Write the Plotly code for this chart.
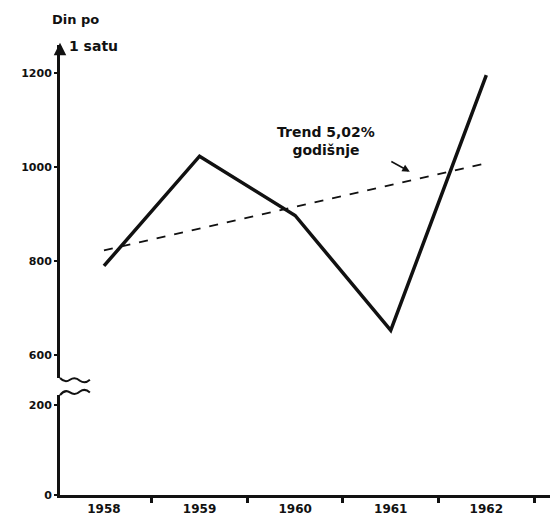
import plotly.graph_objects as go

years = ["1958", "1959", "1960", "1961", "1962"]
values = [790, 1023, 897, 653, 1195]
trend = [823, 865, 910, 958, 1008]
upper_ticks = [600, 800, 1000, 1200]
lower_ticks = [0, 200]

FONT = "DejaVu Sans"
ink = "#111111"

fig = go.Figure()
fig.add_trace(go.Scatter(x=years, y=values, mode="lines",
                         line=dict(color=ink, width=3.5), xaxis="x", yaxis="y",
                         showlegend=False, hoverinfo="skip"))
fig.add_trace(go.Scatter(x=[years[0], years[-1]], y=[trend[0], trend[-1]], mode="lines",
                         line=dict(color=ink, width=2, dash="dash"), xaxis="x", yaxis="y",
                         showlegend=False, hoverinfo="skip"))
fig.add_trace(go.Scatter(x=years, y=[0] * len(years), mode="markers",
                         marker=dict(opacity=0), xaxis="x2", yaxis="y2",
                         showlegend=False, hoverinfo="skip"))

xr = [-0.46, 4.75]
fig.update_layout(
    width=550, height=512,
    margin=dict(l=52, r=0, t=37, b=25),
    paper_bgcolor="white", plot_bgcolor="white",
    font=dict(family=FONT, color=ink, size=11),
    xaxis=dict(type="category", categoryarray=years, range=xr, anchor="y",
               showticklabels=False, showgrid=False, zeroline=False, showline=False,
               domain=[0, 1], automargin=False),
    xaxis2=dict(type="category", categoryarray=years, range=xr, anchor="y2",
                showgrid=False, zeroline=False, showline=True, linecolor=ink, linewidth=3,
                ticks="outside", tickson="boundaries", ticklen=5, tickwidth=3, tickcolor=ink,
                ticklabelstandoff=1,
                tickfont=dict(size=12, family=FONT, weight="bold"),
                domain=[0, 1], automargin=False),
    yaxis=dict(domain=[0.26, 1], range=[552, 1259], anchor="x",
               tickvals=upper_ticks, ticktext=[str(v) for v in upper_ticks],
               showgrid=False, zeroline=False, showline=True, linecolor=ink, linewidth=3,
               ticks="outside", ticklen=3, tickwidth=2, tickcolor=ink,
               tickfont=dict(size=11, family=FONT, weight="bold"), automargin=False),
    yaxis2=dict(domain=[0, 0.222], range=[0, 222], anchor="x2",
                tickvals=lower_ticks, ticktext=[str(v) for v in lower_ticks],
                showgrid=False, zeroline=False, showline=True, linecolor=ink, linewidth=3,
                ticks="outside", ticklen=3, tickwidth=2, tickcolor=ink,
                tickfont=dict(size=11, family=FONT, weight="bold"), automargin=False),
)

# axis break squiggles (paper coordinates)
fig.add_shape(type="path", xref="paper", yref="paper",
              path="M 0,0.26 Q 0.01,0.248 0.02,0.256 Q 0.03,0.264 0.04,0.254 Q 0.05,0.246 0.06,0.256",
              line=dict(color=ink, width=2))
fig.add_shape(type="path", xref="paper", yref="paper",
              path="M 0,0.222 Q 0.01,0.236 0.02,0.228 Q 0.03,0.22 0.04,0.23 Q 0.05,0.238 0.06,0.228",
              line=dict(color=ink, width=2))

# axis title
fig.add_annotation(xref="paper", yref="paper", x=-0.02, y=1.035, xanchor="left", yanchor="bottom",
                   text="<b>Din po</b>", showarrow=False, font=dict(size=13, family=FONT))
fig.add_annotation(xref="paper", yref="paper", x=0.015, y=0.975, xanchor="left", yanchor="bottom",
                   text="<b>1 satu</b>", showarrow=False, font=dict(size=14, family=FONT))
# arrow at top of y axis
fig.add_annotation(xref="paper", yref="paper", x=0, y=1.005, ax=0, ay=12, axref="pixel", ayref="pixel",
                   text="", showarrow=True, arrowhead=2, arrowsize=1, arrowwidth=2.5, arrowcolor=ink,
                   standoff=0)

# trend label
fig.add_annotation(xref="paper", yref="paper", x=0.535, y=0.745, xanchor="center", yanchor="bottom",
                   text="<b>Trend 5,02%</b><br><b>godišnje</b>", showarrow=False, align="center",
                   font=dict(size=14, family=FONT))
fig.add_annotation(x=3.2, y=990, xref="x", yref="y", ax=-20, ay=-11,
                   text="", showarrow=True, arrowhead=2, arrowwidth=1.5, arrowcolor=ink)

fig.write_html("out.html")
